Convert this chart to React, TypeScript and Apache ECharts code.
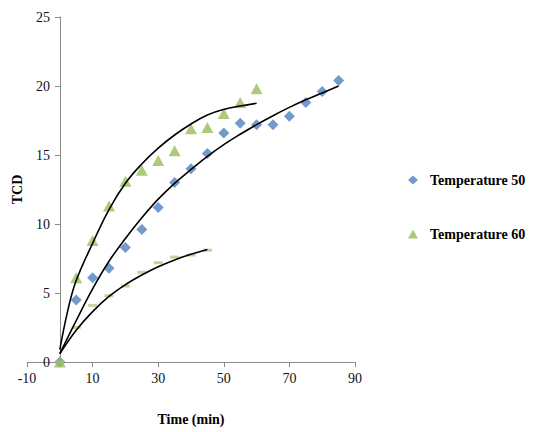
import React, { useEffect, useRef } from "react";
import * as echarts from "echarts";

const timeValues = [0, 5, 10, 15, 20, 25, 30, 35, 40, 45, 50, 55, 60, 65, 70, 75, 80, 85];
const temp50 = [0, 4.5, 6.1, 6.8, 8.3, 9.6, 11.2, 13.0, 14.0, 15.1, 16.6, 17.3, 17.2, 17.2, 17.8, 18.8, 19.6, 20.4];
const temp60Times = [0, 5, 10, 15, 20, 25, 30, 35, 40, 45, 50, 55, 60];
const temp60 = [0, 6.1, 8.8, 11.3, 13.1, 13.9, 14.6, 15.3, 16.9, 17.0, 18.0, 18.8, 19.8];
const thirdTimes = [0, 5, 10, 15, 20, 25, 30, 35, 40, 45];
const thirdValues = [0, 2.5, 4.1, 4.8, 5.5, 6.5, 7.2, 7.6, 7.75, 8.1];

// trend curves
const trend60X = [0, 2.5, 5, 10, 15, 20, 25, 30, 35, 40, 45, 50, 55, 60];
const trend60Y = [0.9, 3.8, 5.9, 8.6, 11.05, 12.95, 14.35, 15.5, 16.45, 17.25, 17.9, 18.3, 18.55, 18.75];
const trend50X = [0, 5, 10, 15, 20, 25, 30, 35, 40, 45, 50, 55, 60, 65, 70, 75, 80, 85];
const trend50Y = [0.6, 3.0, 5.3, 7.3, 8.95, 10.45, 11.8, 12.95, 13.95, 14.9, 15.75, 16.5, 17.2, 17.85, 18.45, 19.0, 19.5, 20.0];
const trend3X = [0, 5, 10, 15, 20, 25, 30, 35, 40, 45];
const trend3Y = [0.6, 2.3, 3.65, 4.75, 5.6, 6.3, 6.9, 7.4, 7.8, 8.15];

const xTicks = { min: -10, max: 90, interval: 20 };
const yTicks = { min: 0, max: 25, interval: 5 };

const zip = (xs: number[], ys: number[]) => xs.map((x, i) => [x, ys[i]]);

export default function App() {
  const ref = useRef<HTMLDivElement>(null);
  useEffect(() => {
    if (!ref.current) return;
    const chart = echarts.init(ref.current, null, { renderer: "svg" });
    const serif = "Liberation Serif";
    const trendStyle = { color: "#000", width: 1.6 };
    const trendCommon = {
      type: "line",
      smooth: 0.4,
      showSymbol: false,
      symbol: "none",
      lineStyle: trendStyle,
      z: 5,
      silent: true,
    };
    chart.setOption({
      animation: false,
      backgroundColor: "#fff",
      grid: { left: 27, right: 178, top: 17, bottom: 70, containLabel: false, outerBoundsMode: "none" },
      xAxis: {
        type: "value",
        min: xTicks.min,
        max: xTicks.max,
        interval: xTicks.interval,
        name: "Time (min)",
        nameLocation: "middle",
        nameGap: 50,
        nameTextStyle: { fontFamily: serif, fontWeight: "bold", fontSize: 14, color: "#000" },
        axisLine: { onZero: false, lineStyle: { color: "#8c8c8c" } },
        axisTick: { show: true, length: 5, lineStyle: { color: "#8c8c8c" } },
        axisLabel: { fontFamily: serif, fontSize: 14, color: "#111", margin: 9 },
        splitLine: { show: false },
      },
      yAxis: {
        type: "value",
        min: yTicks.min,
        max: yTicks.max,
        interval: yTicks.interval,
        offset: -33,
        name: "TCD",
        nameLocation: "middle",
        nameGap: 36,
        nameTextStyle: { fontFamily: serif, fontWeight: "bold", fontSize: 14, color: "#000" },
        axisLine: { show: true, onZero: false, lineStyle: { color: "#8c8c8c" } },
        axisTick: { show: true, length: 5, lineStyle: { color: "#8c8c8c" } },
        axisLabel: { fontFamily: serif, fontSize: 14, color: "#111", margin: 10 },
        splitLine: { show: false },
      },
      legend: {
        orient: "vertical",
        left: 403,
        top: 168,
        itemGap: 40,
        itemWidth: 10,
        itemHeight: 9,
        data: ["Temperature 50", "Temperature 60"],
        textStyle: { fontFamily: serif, fontWeight: "bold", fontSize: 14, color: "#000", padding: [0, 0, 0, 7] },
      },
      series: [
        {
          name: "Temperature 50",
          type: "scatter",
          symbol: "diamond",
          symbolSize: 11,
          itemStyle: { color: "#4F81BD" },
          data: zip(timeValues, temp50),
          z: 2,
        },
        {
          name: "Temperature 60",
          type: "scatter",
          symbol: "triangle",
          symbolSize: [12, 11],
          itemStyle: { color: "#9BBB59" },
          data: zip(temp60Times, temp60),
          z: 3,
        },
        {
          name: "Third",
          type: "scatter",
          symbol: "rect",
          symbolSize: [9, 3],
          itemStyle: { color: "#B2CB86" },
          data: zip(thirdTimes, thirdValues),
          z: 2,
        },
        { ...trendCommon, name: "trend60", data: zip(trend60X, trend60Y) },
        { ...trendCommon, name: "trend50", data: zip(trend50X, trend50Y) },
        { ...trendCommon, name: "trend3", data: zip(trend3X, trend3Y) },
      ],
    });
    return () => chart.dispose();
  }, []);
  return (
    <div
      ref={ref}
      style={{ position: "fixed", left: 0, top: 0, width: 533, height: 432, background: "#fff" }}
    />
  );
}
